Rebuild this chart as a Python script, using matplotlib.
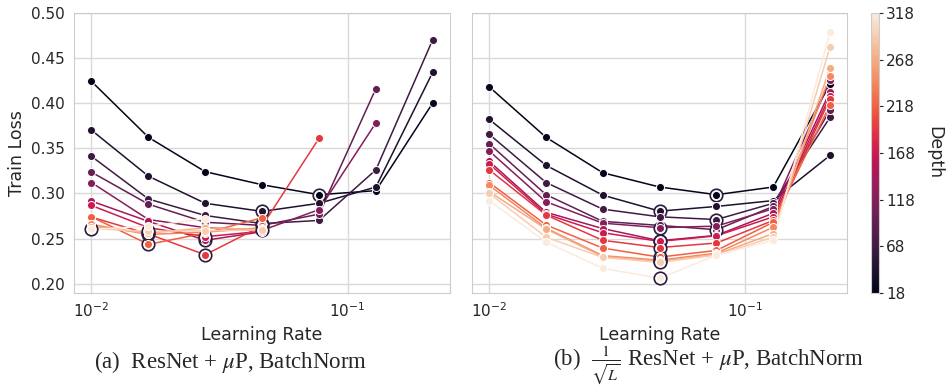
import numpy as np
import matplotlib
matplotlib.use("Agg")
import matplotlib.pyplot as plt
import seaborn as sns
from matplotlib.colors import Normalize
from matplotlib.cm import ScalarMappable

sns.set_style("whitegrid")
plt.rcParams['font.family'] = ['DejaVu Sans']

lrs = [0.01, 0.0167, 0.0278, 0.0464, 0.0774, 0.129, 0.215]
depths = [18, 43, 68, 93, 118, 143, 168, 193, 218, 243, 268, 293, 318]
nan = np.nan

loss_a = [
    [0.424, 0.362, 0.324, 0.3095, 0.2985, 0.303, 0.400],
    [0.370, 0.319, 0.289, 0.280, 0.289, 0.307, 0.434],
    [0.341, 0.2937, 0.2755, 0.2665, 0.270, 0.326, 0.470],
    [0.3235, 0.288, 0.268, 0.2645, 0.277, 0.416, nan],
    [0.312, 0.271, 0.262, 0.259, 0.282, 0.378, nan],
    [0.2914, 0.269, 0.248, 0.2575, nan, nan, nan],
    [0.2866, 0.262, 0.252, 0.258, nan, nan, nan],
    [0.2737, 0.255, 0.232, 0.264, 0.361, nan, nan],
    [0.274, 0.2435, 0.256, 0.273, nan, nan, nan],
    [0.2656, 0.2545, 0.257, 0.262, nan, nan, nan],
    [0.263, 0.256, 0.2617, 0.260, nan, nan, nan],
    [0.261, 0.258, 0.2585, 0.2595, nan, nan, nan],
    [0.260, 0.2637, 0.2718, nan, nan, nan, nan],
]

loss_b = [
    [0.418, 0.362, 0.3228, 0.307, 0.2985, 0.307, 0.421],
    [0.382, 0.331, 0.298, 0.2803, 0.2855, 0.292, 0.342],
    [0.3655, 0.312, 0.2825, 0.274, 0.271, 0.289, 0.384],
    [0.355, 0.2985, 0.269, 0.2645, 0.2597, 0.2855, 0.392],
    [0.347, 0.2907, 0.267, 0.262, 0.2637, 0.283, 0.425],
    [0.3356, 0.279, 0.261, 0.2475, 0.2535, 0.278, 0.4127],
    [0.3327, 0.277, 0.2564, 0.2468, 0.253, 0.274, 0.408],
    [0.3261, 0.276, 0.248, 0.240, 0.245, 0.270, 0.4047],
    [0.312, 0.265, 0.2394, 0.2294, 0.2368, 0.268, 0.398],
    [0.309, 0.2615, 0.231, 0.226, 0.2338, 0.2625, 0.430],
    [0.302, 0.2605, 0.230, 0.2247, 0.2324, 0.2555, 0.439],
    [0.300, 0.2515, 0.229, 0.2236, 0.2316, 0.2515, 0.462],
    [0.292, 0.246, 0.217, 0.206, 0.2316, 0.248, 0.4785],
]

cmap = sns.color_palette("rocket", as_cmap=True)
norm = Normalize(vmin=min(depths), vmax=max(depths))

W, H = 951, 386
fig = plt.figure(figsize=(W / 100, H / 100), dpi=100)
ax1 = fig.add_axes([74 / W, 1 - 292.7 / H, 376 / W, 280 / H])
ax2 = fig.add_axes([471.7 / W, 1 - 292.7 / H, 375.6 / W, 280 / H], sharey=ax1)
cax = fig.add_axes([870.7 / W, 1 - 292.7 / H, 8.6 / W, 279.4 / H])

ring_col = '#2a1b3d'
for ax, data in [(ax1, loss_a), (ax2, loss_b)]:
    for d, vals in zip(depths, data):
        c = cmap(norm(d))
        v = np.array(vals, dtype=float)
        ax.plot(lrs, v, '-', color=c, lw=1.1, zorder=2)
        i = int(np.nanargmin(v))
        ax.plot([lrs[i]], [v[i]], 'o', ms=9, mfc='white', mec=ring_col,
                mew=1.2, zorder=3)
        ax.plot(lrs, v, 'o', ls='none', color=c, ms=5.8, mec='white', mew=0.7,
                zorder=4)
    ax.set_xscale('log')
    ax.set_xlim(10 ** -2.068, 10 ** -0.6)
    ax.set_ylim(0.19, 0.5)
    ax.set_xticks([0.01, 0.1])
    ax.xaxis.set_minor_locator(matplotlib.ticker.NullLocator())
    ax.set_xlabel('Learning Rate', fontsize=12.5, color='.15', labelpad=4)
    ax.tick_params(labelsize=11, colors='.15', pad=3)
    for s in ax.spines.values():
        s.set_color('.8')
    ax.grid(True, color='.85', lw=1)

ax1.set_yticks([0.20, 0.25, 0.30, 0.35, 0.40, 0.45, 0.50])
ax1.yaxis.set_major_formatter(matplotlib.ticker.FormatStrFormatter('%.2f'))
ax1.set_ylabel('Train Loss', fontsize=12.5, color='.15', labelpad=4)
plt.setp(ax2.get_yticklabels(), visible=False)
ax2.tick_params(axis='y', length=0)

sm = ScalarMappable(norm=norm, cmap=cmap)
cb = fig.colorbar(sm, cax=cax)
cb.set_ticks([18, 68, 118, 168, 218, 268, 318])
cb.ax.tick_params(labelsize=11, colors='.15', length=3, width=0.8, pad=2)
cb.outline.set_edgecolor('.8')
cb.set_label('Depth', rotation=270, fontsize=12.5, color='.15', labelpad=20)

serif = ['Liberation Serif', 'DejaVu Serif']
fig.text(230 / W, 1 - 368 / H, r'(a)  ResNet + $\mu$P, BatchNorm', ha='center',
         va='baseline', fontsize=16.5, family=serif, math_fontfamily='stix')
fig.text(708 / W, 1 - 366 / H, r'(b)  $\frac{1}{\sqrt{L}}$ ResNet + $\mu$P, BatchNorm',
         ha='center', va='baseline', fontsize=16.5, family=serif, math_fontfamily='stix')

fig.savefig('out.png', dpi=100)
